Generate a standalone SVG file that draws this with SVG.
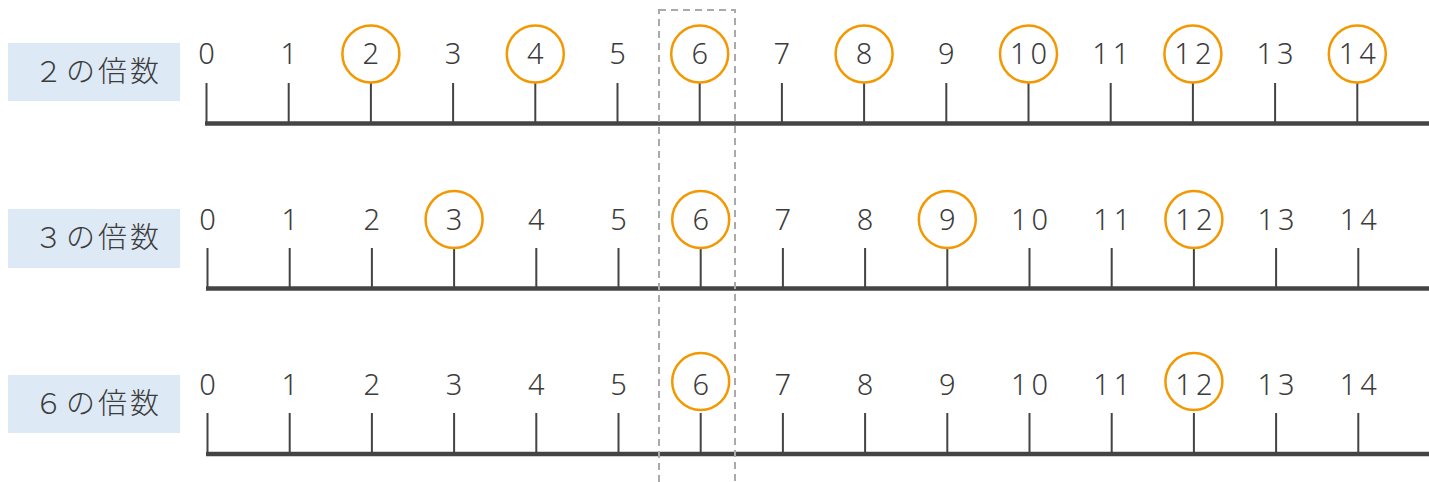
<svg xmlns="http://www.w3.org/2000/svg" width="1429" height="482" viewBox="0 0 1429 482">
<style>
.lbl{fill:#dde9f5}
.lt{font-family:"Noto Sans CJK JP","Noto Sans",sans-serif;font-size:29px;font-weight:300;letter-spacing:3px;fill:#3c3c3c;text-anchor:middle}
.n{font-family:"Noto Sans","Liberation Sans",sans-serif;font-size:29px;font-weight:300;fill:#3c3c3c;text-anchor:middle}
.w{letter-spacing:4px}
.ax{stroke:#444;stroke-width:4.5;fill:none}
.tk{stroke:#444;stroke-width:2;fill:none}
.c{fill:none;stroke:#f39800;stroke-width:2.5}
.dash{fill:none;stroke:#aaa;stroke-width:2;stroke-dasharray:7 5}
</style>
<g id="row1">
<rect class="lbl" x="8" y="43" width="172" height="58"/>
<text class="lt" x="98" y="82">２の倍数</text>
<line class="ax" x1="205" y1="123.5" x2="1429" y2="123.5"/>
<path class="tk" d="M206.5 83V123M288.7 83V123M370.9 83V123M453.1 83V123M535.3 83V123M617.5 83V123M699.7 83V123M781.9 83V123M864.1 83V123M946.3 83V123M1028.5 83V123M1110.7 83V123M1192.9 83V123M1275.1 83V123M1357.3 83V123"/>
<g class="c"><circle cx="370.9" cy="54" r="28.5"/><circle cx="535.3" cy="54" r="28.5"/><circle cx="699.7" cy="54" r="28.5"/><circle cx="864.1" cy="54" r="28.5"/><circle cx="1028.5" cy="54" r="28.5"/><circle cx="1192.9" cy="54" r="28.5"/><circle cx="1357.3" cy="54" r="28.5"/></g>
<g class="n">
<text x="206.5" y="64">0</text><text x="288.7" y="64">1</text><text x="370.9" y="64">2</text><text x="453.1" y="64">3</text><text x="535.3" y="64">4</text><text x="617.5" y="64">5</text><text x="699.7" y="64">6</text><text x="781.9" y="64">7</text><text x="864.1" y="64">8</text><text x="946.3" y="64">9</text><text class="w" x="1030.5" y="64">10</text><text class="w" x="1112.7" y="64">11</text><text class="w" x="1194.9" y="64">12</text><text class="w" x="1277.1" y="64">13</text><text class="w" x="1359.3" y="64">14</text>
</g>
</g>
<g id="row2">
<rect class="lbl" x="8" y="209" width="172" height="59"/>
<text class="lt" x="98" y="248">３の倍数</text>
<line class="ax" x1="206" y1="288.5" x2="1429" y2="288.5"/>
<path class="tk" d="M207.5 248V288M289.7 248V288M371.9 248V288M454.1 248V288M536.3 248V288M618.5 248V288M700.7 248V288M782.9 248V288M865.1 248V288M947.3 248V288M1029.5 248V288M1111.7 248V288M1193.9 248V288M1276.1 248V288M1358.3 248V288"/>
<g class="c"><circle cx="454.1" cy="219.5" r="28.5"/><circle cx="700.7" cy="219.5" r="28.5"/><circle cx="947.3" cy="219.5" r="28.5"/><circle cx="1193.9" cy="219.5" r="28.5"/></g>
<g class="n">
<text x="207.5" y="230">0</text><text x="289.7" y="230">1</text><text x="371.9" y="230">2</text><text x="454.1" y="230">3</text><text x="536.3" y="230">4</text><text x="618.5" y="230">5</text><text x="700.7" y="230">6</text><text x="782.9" y="230">7</text><text x="865.1" y="230">8</text><text x="947.3" y="230">9</text><text class="w" x="1031.5" y="230">10</text><text class="w" x="1113.7" y="230">11</text><text class="w" x="1195.9" y="230">12</text><text class="w" x="1278.1" y="230">13</text><text class="w" x="1360.3" y="230">14</text>
</g>
</g>
<g id="row3">
<rect class="lbl" x="8" y="375" width="172" height="58"/>
<text class="lt" x="98" y="414">６の倍数</text>
<line class="ax" x1="206" y1="454" x2="1429" y2="454"/>
<path class="tk" d="M207.5 413V454M289.7 413V454M371.9 413V454M454.1 413V454M536.3 413V454M618.5 413V454M700.7 413V454M782.9 413V454M865.1 413V454M947.3 413V454M1029.5 413V454M1111.7 413V454M1193.9 413V454M1276.1 413V454M1358.3 413V454"/>
<g class="c"><circle cx="700.7" cy="381.5" r="28.5"/><circle cx="1193.9" cy="381.5" r="28.5"/></g>
<g class="n">
<text x="207.5" y="395">0</text><text x="289.7" y="395">1</text><text x="371.9" y="395">2</text><text x="454.1" y="395">3</text><text x="536.3" y="395">4</text><text x="618.5" y="395">5</text><text x="700.7" y="395">6</text><text x="782.9" y="395">7</text><text x="865.1" y="395">8</text><text x="947.3" y="395">9</text><text class="w" x="1031.5" y="395">10</text><text class="w" x="1113.7" y="395">11</text><text class="w" x="1195.9" y="395">12</text><text class="w" x="1278.1" y="395">13</text><text class="w" x="1360.3" y="395">14</text>
</g>
</g>
<g id="highlight">
<rect class="dash" x="659" y="10" width="76" height="490"/>
</g>
</svg>
